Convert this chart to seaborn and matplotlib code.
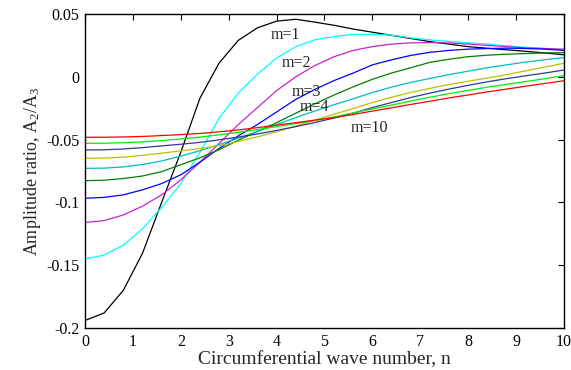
import numpy as np
import pandas as pd
import matplotlib
matplotlib.use("Agg")
import matplotlib.pyplot as plt
import seaborn as sns
from matplotlib.ticker import FuncFormatter, MultipleLocator

# circumferential wave number grid (step 0.4)
n_values = [0.0, 0.4, 0.8, 1.2, 1.6, 2.0, 2.4, 2.8, 3.2, 3.6, 4.0, 4.4, 4.8,
            5.2, 5.6, 6.0, 6.4, 6.8, 7.2, 7.6, 8.0, 8.4, 8.8, 9.2, 9.6, 10.0]

# amplitude ratio A2/A3 for axial modes m = 1 ... 10
m1 = [-0.194, -0.188, -0.170, -0.1405, -0.100, -0.060, -0.017, 0.011, 0.029,
      0.039, 0.0443, 0.0458, 0.0435, 0.041, 0.038, 0.0355, 0.033, 0.0305,
      0.028, 0.026, 0.024, 0.0227, 0.0215, 0.0203, 0.019, 0.0175]
m2 = [-0.145, -0.142, -0.134, -0.121, -0.104, -0.085, -0.060, -0.033, -0.013,
      0.002, 0.015, 0.024, 0.0295, 0.032, 0.0338, 0.0338, 0.0332, 0.031,
      0.0293, 0.0282, 0.027, 0.026, 0.0247, 0.0235, 0.0225, 0.0213]
m3 = [-0.116, -0.1145, -0.110, -0.103, -0.094, -0.082, -0.068, -0.053, -0.038,
      -0.0245, -0.011, 0.000, 0.009, 0.016, 0.021, 0.024, 0.026, 0.027,
      0.0272, 0.027, 0.026, 0.025, 0.024, 0.023, 0.0225, 0.022]
m4 = [-0.0967, -0.096, -0.094, -0.090, -0.085, -0.078, -0.068, -0.057, -0.047,
      -0.038, -0.028, -0.018, -0.010, -0.003, 0.003, 0.0095, 0.0135, 0.017,
      0.0195, 0.021, 0.022, 0.0225, 0.0228, 0.0225, 0.022, 0.021]
m5 = [-0.0827, -0.0823, -0.081, -0.079, -0.0755, -0.070, -0.0645, -0.058,
      -0.0505, -0.0435, -0.0365, -0.029, -0.0215, -0.0145, -0.008, -0.002,
      0.003, 0.0072, 0.0115, 0.014, 0.016, 0.0172, 0.018, 0.0185, 0.019, 0.0192]
m6 = [-0.0729, -0.0727, -0.0718, -0.0698, -0.067, -0.0632, -0.0588, -0.054,
      -0.0488, -0.0435, -0.038, -0.0325, -0.0272, -0.0222, -0.0175, -0.0125,
      -0.0082, -0.0045, -0.0013, 0.0017, 0.0045, 0.0072, 0.0095, 0.0117,
      0.0136, 0.0153]
m7 = [-0.0649, -0.0647, -0.064, -0.0625, -0.0608, -0.059, -0.0572, -0.0548,
      -0.0515, -0.0478, -0.0437, -0.0392, -0.0345, -0.0298, -0.0253, -0.0205,
      -0.0162, -0.0125, -0.0092, -0.0062, -0.0035, -0.001, 0.0017, 0.0047,
      0.0078, 0.0107]
m8 = [-0.0583, -0.0581, -0.0575, -0.0564, -0.055, -0.0537, -0.0522, -0.0502,
      -0.048, -0.0455, -0.0427, -0.0397, -0.0364, -0.0328, -0.029, -0.0245,
      -0.0205, -0.0165, -0.013, -0.0098, -0.0068, -0.004, -0.0015, 0.0008,
      0.003, 0.0054]
m9 = [-0.053, -0.0529, -0.0525, -0.0518, -0.0508, -0.0495, -0.048, -0.0462,
      -0.0442, -0.042, -0.0397, -0.0373, -0.0347, -0.032, -0.0287, -0.0256,
      -0.0225, -0.0193, -0.0163, -0.0134, -0.0108, -0.0083, -0.006, -0.0038,
      -0.0015, 0.0009]
m10 = [-0.0482, -0.0481, -0.0479, -0.0475, -0.0468, -0.046, -0.0451, -0.0438,
       -0.0423, -0.0405, -0.0385, -0.0365, -0.0345, -0.0325, -0.030, -0.0273,
       -0.0247, -0.022, -0.0195, -0.0168, -0.0145, -0.012, -0.0098, -0.0075,
       -0.0053, -0.0031]

mode_numbers = [1, 2, 3, 4, 5, 6, 7, 8, 9, 10]
series = [m1, m2, m3, m4, m5, m6, m7, m8, m9, m10]
colors = ["#000000", "#00FFFF", "#CC22CC", "#0000FF", "#008000",
          "#00BFBF", "#BFBF00", "#303A90", "#00F000", "#FF0000"]

# curve annotations: text and (n, ratio) position
label_texts = ["m=1", "m=2", "m=3", "m=4", "m=10"]
label_pos = [(4.19, 0.0333), (4.41, 0.0107), (4.62, -0.0119),
             (4.78, -0.0243), (5.93, -0.0405)]

df = pd.DataFrame({
    "n": np.tile(n_values, len(mode_numbers)),
    "ratio": np.concatenate(series),
    "m": np.repeat(mode_numbers, len(n_values)),
})

sns.set_theme(style="white")
plt.rcParams["font.family"] = ["Liberation Serif", "DejaVu Serif"]
plt.rcParams["mathtext.default"] = "regular"
plt.rcParams["axes.unicode_minus"] = False

fig = plt.figure(figsize=(5.71, 3.70), dpi=100)
ax = fig.add_axes([0.1489, 0.1135, 0.8388, 0.8487])

sns.lineplot(data=df, x="n", y="ratio", hue="m", palette=colors,
             linewidth=0.9, legend=False, ax=ax, sort=False)

for txt, (xp, yp) in zip(label_texts, label_pos):
    ax.text(xp, yp, txt, fontsize=11.5, ha="center", va="center")

ax.set_xlim(0, 10)
ax.set_ylim(-0.2, 0.05)
ax.xaxis.set_major_locator(MultipleLocator(1))
ax.yaxis.set_major_locator(MultipleLocator(0.05))
ax.yaxis.set_major_formatter(FuncFormatter(lambda v, p: "%g" % round(v, 4)))
ax.tick_params(direction="in", length=4, width=0.8, top=True, right=True,
               labelsize=11.5, pad=4, colors="black")
for s in ax.spines.values():
    s.set_color("black")
    s.set_linewidth(1.0)

ax.set_xlabel("Circumferential wave number, n", fontsize=14, labelpad=1)
ax.set_ylabel("Amplitude ratio, A$_2$/A$_3$", fontsize=13, labelpad=2)

fig.savefig("out.png", dpi=100)
